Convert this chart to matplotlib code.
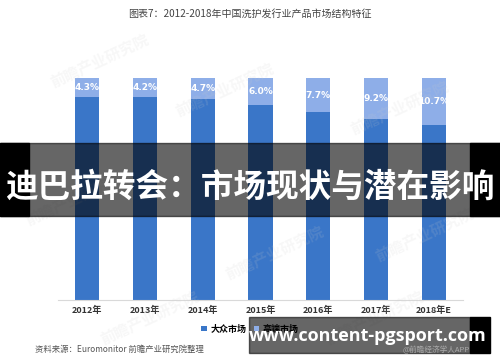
import matplotlib.pyplot as plt
from matplotlib.patches import Rectangle

plt.rcParams['font.family'] = ['Noto Sans CJK SC', 'DejaVu Sans']

years = ['2012年', '2013年', '2014年', '2015年', '2016年', '2017年', '2018年E']
premium = [4.3, 4.2, 4.7, 6.0, 7.7, 9.2, 10.7]  # 高端市场 %
mass = [100 - p for p in premium]               # 大众市场 %
base = 50

c_mass = '#3a76c8'
c_prem = '#8eaee8'

fig = plt.figure(figsize=(5, 3.62), dpi=100)
ax = fig.add_axes([0.116, 0.1713, 0.81, 0.6133])

x = range(len(years))
ax.bar(x, [m - base for m in mass], bottom=base, width=0.415, color=c_mass, label='大众市场')
ax.bar(x, premium, bottom=mass, width=0.415, color=c_prem, label='高端市场')
for i, p in enumerate(premium):
    ax.text(i, 100 - p / 2, f'{p}%', ha='center', va='center', color='white',
            fontsize=6.5, fontweight='bold', family='DejaVu Sans')

ax.set_xlim(-0.5, 6.5)
ax.set_ylim(base, 100)
ax.set_yticks([])
ax.set_xticks(list(x))
ax.set_xticklabels(years, fontsize=6.5, fontweight='bold', color='#333333')
ax.tick_params(axis='x', length=0, pad=4)
for s in ['top', 'right', 'left']:
    ax.spines[s].set_visible(False)
ax.spines['bottom'].set_color('#d9d9d9')

fig.legend(loc='center', bbox_to_anchor=(0.5, 0.091), ncol=2, frameon=False,
           handlelength=0.6, handleheight=0.6, handletextpad=0.4,
           columnspacing=0.8, prop={'weight': 'bold', 'size': 6.5})

fig.text(0.5, 0.961, '图表7：2012-2018年中国洗护发行业产品市场结构特征',
         ha='center', va='center', fontsize=7.2, color='#444444')
fig.text(0.07, 0.036, '资料来源：Euromonitor 前瞻产业研究院整理', ha='left', va='center',
         fontsize=6, color='#555555', style='italic')

# faint watermarks
for wx, wy in [(0.2, 0.83), (0.45, 0.75), (0.8, 0.7), (0.15, 0.45), (0.55, 0.3), (0.85, 0.35), (0.3, 0.12), (0.75, 0.12)]:
    fig.text(wx, wy, '前瞻产业研究院', ha='center', va='center', fontsize=11,
             color='#cccccc', alpha=0.15, rotation=25, fontweight='bold')

# overlay banner
fig.patches.append(Rectangle((0, 1 - 216 / 362), 1, 73 / 362, transform=fig.transFigure,
                             color='black', alpha=0.6, zorder=5))
fig.patches.append(Rectangle((0, 1 - 216 / 362), 29 / 500, 73 / 362, transform=fig.transFigure,
                             color='black', zorder=5))
fig.patches.append(Rectangle((470 / 500, 1 - 216 / 362), 30 / 500, 73 / 362, transform=fig.transFigure,
                             color='black', zorder=5))
fig.text(0.5, 1 - 187 / 362, '迪巴拉转会：市场现状与潜在影响', ha='center', va='center',
         fontsize=23.5, color='white', fontweight='bold', zorder=6)

# bottom url box
fig.patches.append(Rectangle((249 / 500, 1 - 353 / 362), 221 / 500, 36 / 362, transform=fig.transFigure,
                             color='black', alpha=0.6, zorder=5))
fig.patches.append(Rectangle((470 / 500, 1 - 353 / 362), 20 / 500, 36 / 362, transform=fig.transFigure,
                             color='black', zorder=5))
fig.text(368 / 500, 1 - 336 / 362, 'www.content-pgsport.com', ha='center', va='center',
         fontsize=13, color='white', fontweight='bold', family='Open Sans', zorder=6)
fig.text(470 / 500, 1 - 350 / 362, '@前瞻经济学人APP', ha='right', va='center',
         fontsize=5.5, color='#aaaaaa', zorder=6)

fig.savefig('out.png', dpi=100)
